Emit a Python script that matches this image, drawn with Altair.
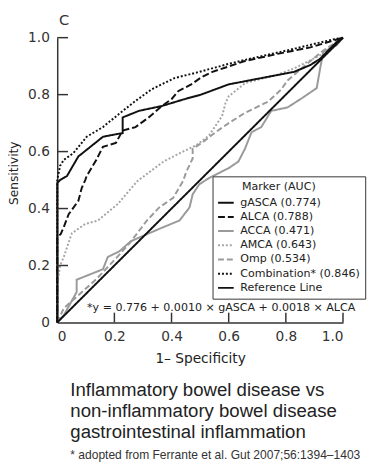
import altair as alt
import pandas as pd

# ---------------- data ----------------
labels = ["gASCA (0.774)", "ALCA (0.788)", "ACCA (0.471)", "AMCA (0.643)",
          "Omp (0.534)", "Combination* (0.846)", "Reference Line"]

gasca_x = [0, 0, 0.01, 0.034, 0.074, 0.16, 0.217, 0.229, 0.229, 0.286, 0.366, 0.445, 0.503,
           0.6, 0.714, 0.829, 0.886, 0.92, 0.977, 1.0]
gasca_y = [0, 0.49, 0.50, 0.514, 0.583, 0.652, 0.663, 0.665, 0.72, 0.743, 0.76, 0.784, 0.80,
           0.836, 0.858, 0.88, 0.904, 0.926, 0.984, 1.0]

alca_x = [0, 0, 0.012, 0.023, 0.04, 0.074, 0.086, 0.098, 0.103, 0.137, 0.16, 0.205, 0.229,
          0.274, 0.32, 0.366, 0.4, 0.423, 0.469, 0.503, 0.543, 0.657, 0.771, 0.886, 1.0]
alca_y = [0, 0.30, 0.31, 0.335, 0.38, 0.427, 0.473, 0.50, 0.514, 0.571, 0.617, 0.63, 0.674,
          0.686, 0.72, 0.76, 0.784, 0.812, 0.836, 0.86, 0.88, 0.918, 0.943, 0.966, 1.0]

acca_x = [0, 0.023, 0.068, 0.068, 0.16, 0.177, 0.218, 0.257, 0.314, 0.372, 0.428, 0.463,
          0.474, 0.497, 0.531, 0.6, 0.634, 0.657, 0.68, 0.714, 0.749, 0.806, 0.86, 0.908,
          0.92, 0.931, 0.977, 1.0]
acca_y = [0, 0.025, 0.107, 0.15, 0.187, 0.23, 0.25, 0.285, 0.31, 0.335, 0.358, 0.404,
          0.45, 0.485, 0.507, 0.542, 0.565, 0.61, 0.668, 0.686, 0.743, 0.755, 0.79, 0.823,
          0.892, 0.95, 0.973, 1.0]

amca_x = [0, 0, 0.01, 0.023, 0.051, 0.098, 0.143, 0.212, 0.28, 0.372, 0.44, 0.486, 0.531,
          0.577, 0.589, 0.6, 0.657, 0.771, 0.829, 0.92, 1.0]
amca_y = [0, 0.13, 0.2, 0.23, 0.313, 0.346, 0.358, 0.416, 0.496, 0.565, 0.6, 0.622, 0.656,
          0.725, 0.771, 0.794, 0.84, 0.87, 0.892, 0.938, 1.0]

omp_x = [0, 0.023, 0.137, 0.212, 0.253, 0.314, 0.356, 0.406, 0.44, 0.452, 0.474, 0.474,
         0.509, 0.554, 0.6, 0.657, 0.737, 0.783, 0.806, 0.874, 0.93, 1.0]
omp_y = [0, 0.05, 0.152, 0.232, 0.278, 0.358, 0.403, 0.438, 0.496, 0.53, 0.576, 0.61,
         0.633, 0.668, 0.70, 0.736, 0.775, 0.817, 0.85, 0.908, 0.954, 1.0]

comb_x = [0, 0, 0.01, 0.023, 0.057, 0.103, 0.16, 0.217, 0.274, 0.331, 0.41, 0.49, 0.60,
          0.657, 0.715, 0.829, 0.97, 1.0]
comb_y = [0, 0.50, 0.55, 0.571, 0.595, 0.652, 0.686, 0.733, 0.778, 0.819, 0.858, 0.878, 0.908,
          0.922, 0.935, 0.961, 0.995, 1.0]

ref_x = [0, 1.0]
ref_y = [0, 1.0]

tick_values = [0.2, 0.4, 0.6, 0.8, 1.0]
label_values = [0, 0.2, 0.4, 0.6, 0.8, 1.0]

equation = "*y = 0.776 + 0.0010 \u00d7 gASCA + 0.0018 \u00d7 ALCA"
caption = ["Inflammatory bowel disease vs",
           "non-inflammatory bowel disease",
           "gastrointestinal inflammation"]
footnote = "* adopted from Ferrante et al. Gut 2007;56:1394\u20131403"

# ---------------- styles ----------------
colors = ["#111111", "#111111", "#9a9a9a", "#a5a5a5", "#9a9a9a", "#111111", "#111111"]
dashes = [[1, 0], [7, 3], [1, 0], [2, 2], [6, 3], [2, 2], [1, 0]]
widths = [2.0, 2.0, 1.5, 1.4, 1.5, 2.0, 1.8]

series = [
    (labels[2], acca_x, acca_y),
    (labels[3], amca_x, amca_y),
    (labels[4], omp_x, omp_y),
    (labels[6], ref_x, ref_y),
    (labels[0], gasca_x, gasca_y),
    (labels[1], alca_x, alca_y),
    (labels[5], comb_x, comb_y),
]
rows = []
for name, xs_, ys_ in series:
    for i, (a, b) in enumerate(zip(xs_, ys_)):
        rows.append({"series": name, "fpr": a, "tpr": b, "i": i})
df = pd.DataFrame(rows)

W, H = 292, 291
FONT = "DejaVu Sans"
AX = "#333333"
LEG_TITLE = "\u200b" + "\u00a0" * 7 + "Marker (AUC)"

xs = alt.Scale(domain=[0, 1], nice=False, zero=False)
ys = alt.Scale(domain=[0, 1], nice=False, zero=False)
lab_expr = "datum.value == 0 ? '0' : format(datum.value, '.1f')"

x_enc = alt.X("fpr:Q", scale=xs,
              axis=alt.Axis(values=label_values, labelExpr=lab_expr, title="1\u2013 Specificity",
                            titlePadding=9, labelPadding=7))
y_enc = alt.Y("tpr:Q", scale=ys,
              axis=alt.Axis(values=label_values, labelExpr=lab_expr, title="Sensitivity",
                            labelPadding=8, titleFontSize=12.5, titleX=-45, titleY=138,
                            titleAngle=270, titleAlign="center", titleBaseline="middle"))

lines = alt.Chart(df).mark_line().encode(
    x=x_enc,
    y=y_enc,
    color=alt.Color("series:N", scale=alt.Scale(domain=labels, range=colors),
                    legend=alt.Legend(title=LEG_TITLE)),
    strokeDash=alt.StrokeDash("series:N", scale=alt.Scale(domain=labels, range=dashes),
                              legend=alt.Legend(title=LEG_TITLE)),
    strokeWidth=alt.StrokeWidth("series:N", scale=alt.Scale(domain=labels, range=widths),
                                legend=None),
    order="i:Q",
)

ytick_df = pd.DataFrame({"tpr": tick_values})
xtick_df = pd.DataFrame({"fpr": tick_values})
yticks = alt.Chart(ytick_df).mark_rule(color=AX, strokeWidth=1.5).encode(
    y=alt.Y("tpr:Q", scale=ys), x=alt.value(0), x2=alt.value(11))
xticks = alt.Chart(xtick_df).mark_rule(color=AX, strokeWidth=1.5).encode(
    x=alt.X("fpr:Q", scale=xs), y=alt.value(H), y2=alt.value(H - 10))

one = pd.DataFrame({"t": [0]})


def txt(text, x, y, size, font=FONT, color="#222", align="left", baseline="middle", **kw):
    return alt.Chart(one).mark_text(font=font, fontSize=size, color=color, align=align,
                                    baseline=baseline, **kw).encode(
        x=alt.value(x), y=alt.value(y), text=alt.value(text))


t_c = txt("C", 7, -18, 15, color=AX, align="center")
t_eq = txt(equation, 30.5, 276, 11.3, color="#222")
t_cap = alt.Chart(one).mark_text(font="Liberation Sans", fontSize=19, color="#222",
                                 align="left", baseline="alphabetic", lineBreak="\n",
                                 lineHeight=21.7).encode(
    x=alt.value(13.4), y=alt.value(366), text=alt.value("\n".join(caption)))
t_foot = txt(footnote, 13.4, 430.5, 12.3, font="Liberation Sans", color="#333",
             baseline="alphabetic")

chart = alt.layer(lines, yticks, xticks, t_c, t_eq, t_cap, t_foot).properties(
    width=W, height=H,
    autosize=alt.AutoSizeParams(type="none"),
    padding={"left": 50.3, "top": 25.3, "right": 32.7, "bottom": 143.7},
).configure(background="white").configure_view(stroke=None).configure_axis(
    ticks=False, grid=False, domainColor=AX, domainWidth=1.5,
    labelFont=FONT, labelFontSize=14, labelColor=AX,
    titleFont=FONT, titleFontSize=14, titleFontWeight="normal", titleColor="#222",
).configure_legend(
    orient="none", legendX=158.7, legendY=141.7,
    strokeColor=AX, fillColor="white", padding=5, cornerRadius=0,
    titleFont=FONT, titleFontSize=11.3, titleFontWeight="normal", titleColor="#222",
    titlePadding=5, titleLimit=300,
    labelFont=FONT, labelFontSize=11.3, labelColor="#222", labelLimit=300,
    symbolType="M-2,0H2", symbolSize=64, symbolStrokeWidth=1.5,
    symbolFillColor="transparent", symbolOffset=3, labelOffset=9, rowPadding=2.5,
)

chart.save("out.html", embed_options={"renderer": "svg", "actions": False})
